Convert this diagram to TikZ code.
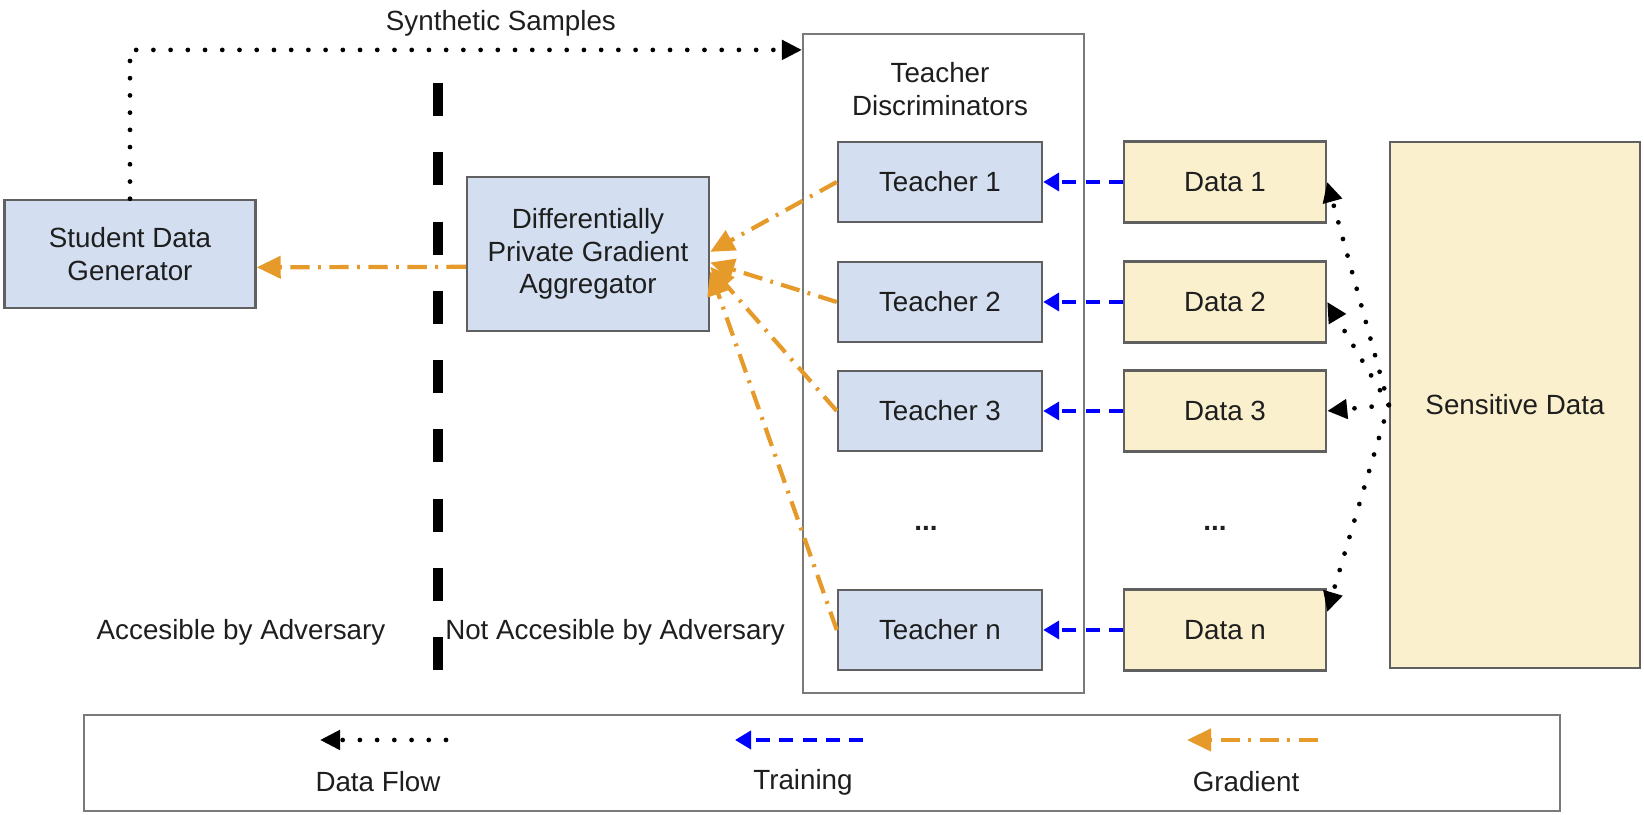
\documentclass[tikz,border=0pt]{standalone}
\usepackage{fontspec}
\setmainfont{Liberation Sans}
\usetikzlibrary{shapes.geometric, arrows, arrows.meta, positioning}

\definecolor{boxblue}{HTML}{D3DFF0}
\definecolor{boxyellow}{HTML}{FBF0CE}
\definecolor{gradorange}{HTML}{E69A2A}
\definecolor{edgegray}{HTML}{606060}
\definecolor{framegray}{HTML}{7A7A7A}
\definecolor{textgray}{HTML}{1E1E1E}

\tikzstyle{bluebox} = [rectangle, minimum width=2.04cm, minimum height=0.80cm, text centered, align=center, draw=edgegray, line width=0.7pt, fill=boxblue, text=textgray]
\tikzstyle{databox} = [rectangle, minimum width=2.02cm, minimum height=0.81cm, text centered, draw=edgegray, line width=0.7pt, fill=boxyellow, text=textgray]
\tikzstyle{frame} = [rectangle, draw=framegray, line width=0.6pt, fill=white]
\tikzstyle{plain} = [text centered, align=center, text=textgray]
\tikzstyle{dataflow} = [line width=1.35pt, dash pattern=on 0pt off 4.9pt, line cap=round, -{Triangle[length=0.2cm, width=0.19cm]}]
\tikzstyle{training} = [blue, line width=1.1pt, dash pattern=on 4pt off 2.6pt, -{Triangle[length=0.16cm, width=0.18cm]}]
\tikzstyle{gradient} = [gradorange, line width=1.2pt, dash pattern=on 5.5pt off 2.4pt on 0.8pt off 2.4pt, -{Triangle[length=0.24cm, width=0.22cm]}]
\tikzstyle{divider} = [line width=2.7pt, dash pattern=on 0.33cm off 0.363cm]

\begin{document}
\begin{tikzpicture}[font=\fontsize{7.9}{9.3}\selectfont]

\useasboundingbox (0,0) rectangle (16.44,8.15);

%% NODES

\node (student) [bluebox, minimum width=2.51cm, minimum height=1.08cm] at (1.30,5.61) {Student Data\\Generator};
\node (dpga) [bluebox, right of=student, minimum width=2.42cm, minimum height=1.54cm, node distance=4.58cm] {Differentially\\Private Gradient\\Aggregator};

\node (container) [frame, minimum width=2.81cm, minimum height=6.59cm] at (9.435,4.515) {};
\node (t1) [bluebox] at (9.40,6.33) {Teacher 1};
\node (tlabel) [plain, above of=t1, node distance=0.93cm] {Teacher\\Discriminators};
\node (t2) [bluebox, below of=t1, node distance=1.2cm] {Teacher 2};
\node (t3) [bluebox, below of=t2, node distance=1.09cm] {Teacher 3};
\node (tn) [bluebox, below of=t3, node distance=2.19cm] {Teacher n};
\node (tdots) [plain, below of=t3, xshift=-0.14cm, node distance=1.17cm] {\textbf{...}};

\node (d1) [databox, right of=t1, node distance=2.85cm] {Data 1};
\node (d2) [databox, right of=t2, node distance=2.85cm] {Data 2};
\node (d3) [databox, right of=t3, node distance=2.85cm] {Data 3};
\node (dn) [databox, right of=tn, node distance=2.85cm] {Data n};
\node (ddots) [plain, right of=tdots, node distance=2.89cm] {\textbf{...}};

\node (sens) [databox, minimum width=2.50cm, minimum height=5.26cm] at (15.15,4.10) {Sensitive Data};

\node (acc) [plain] at (2.41,1.83) {Accesible by Adversary};
\node (notacc) [plain] at (6.15,1.83) {Not Accesible by Adversary};

\coordinate (divtop) at (4.38,7.32);
\coordinate (divbot) at (4.38,1.45);

% legend
\node (legend) [frame, minimum width=14.76cm, minimum height=0.96cm] at (8.22,0.52) {};
\coordinate (lflow1) at (4.46,0.75);
\coordinate (lflow2) at (3.20,0.75);
\coordinate (ltrain1) at (8.63,0.75);
\coordinate (ltrain2) at (7.35,0.75);
\coordinate (lgrad1) at (13.18,0.75);
\coordinate (lgrad2) at (11.87,0.75);
\node (lflow) [plain] at (3.78,0.33) {Data Flow};
\node (ltrain) [plain] at (8.03,0.33) {Training};
\node (lgrad) [plain] at (12.46,0.33) {Gradient};

%% ARROWS

\draw [divider] (divtop) -- (divbot);

\draw [dataflow] (student.north) |- ([yshift=-0.17cm]container.north west) node[plain, above, pos=0.776] {Synthetic Samples};
\draw [gradient] (dpga.186) -- (student.-6);

\draw [gradient] (t1.west) -- (dpga.1);
\draw [gradient] (t2.west) -- (dpga.-4);
\draw [gradient] (t3.west) -- (dpga.-6);
\draw [gradient] (tn.west) -- (dpga.-8);

\draw [training] (d1.west) -- (t1.east);
\draw [training] (d2.west) -- (t2.east);
\draw [training] (d3.west) -- (t3.east);
\draw [training] (dn.west) -- (tn.east);

\draw [dataflow] (sens.west) -- (d1.east);
\draw [dataflow] (sens.west) -- (d2.east);
\draw [dataflow] (sens.west) -- (d3.east);
\draw [dataflow] (sens.west) -- (dn.10);

\draw [dataflow] (lflow1) -- (lflow2);
\draw [training] (ltrain1) -- (ltrain2);
\draw [gradient] (lgrad1) -- (lgrad2);

\end{tikzpicture}
\end{document}
